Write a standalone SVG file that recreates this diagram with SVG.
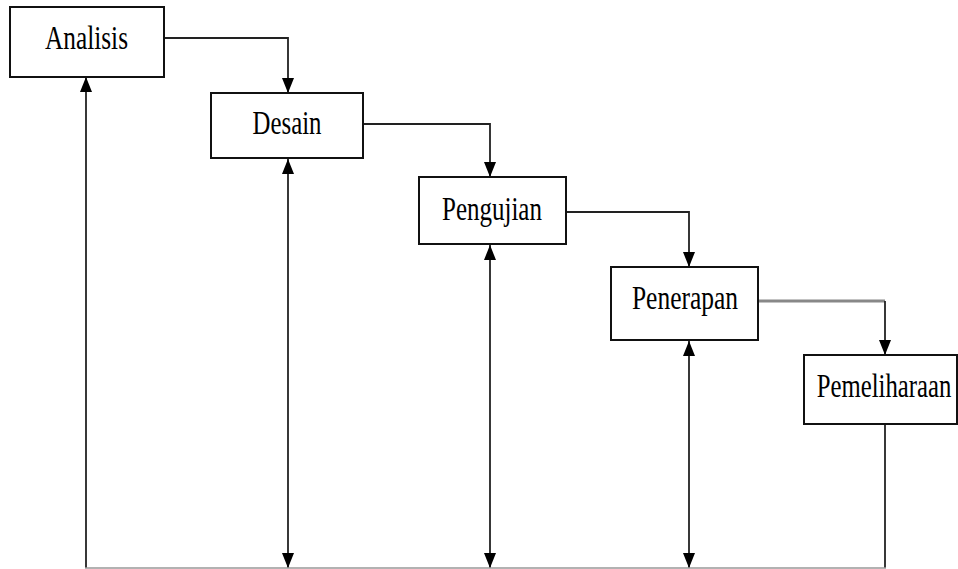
<svg xmlns="http://www.w3.org/2000/svg" width="958" height="569" viewBox="0 0 958 569">
<style>
.box{fill:#fff;stroke:#111;stroke-width:2}
.lbl{font-family:"Liberation Serif","Times New Roman",serif;font-size:34px;fill:#000;text-anchor:middle}
.ln{fill:none;stroke:#222;stroke-width:1.8}
.gr{fill:none;stroke:#888;stroke-width:3}
</style>
<defs>
<marker id="ar" viewBox="0 0 15 12" refX="15" refY="6" markerWidth="15" markerHeight="12" markerUnits="userSpaceOnUse" orient="auto">
<path d="M0,0 L15,6 L0,12 Z" fill="#000"/>
</marker>
<marker id="as" viewBox="0 0 15 12" refX="0" refY="6" markerWidth="15" markerHeight="12" markerUnits="userSpaceOnUse" orient="auto">
<path d="M15,0 L0,6 L15,12 Z" fill="#000"/>
</marker>
</defs>
<g id="connectors">
<path class="ln" d="M164,38 H288 V93" marker-end="url(#ar)"/>
<path class="ln" d="M363,124 H490 V177" marker-end="url(#ar)"/>
<path class="ln" d="M566,212 H689 V267" marker-end="url(#ar)"/>
<path class="gr" d="M758,301 H885"/>
<path class="ln" d="M885,301 V355" marker-end="url(#ar)"/>
<path class="ln" d="M86,568 V77" marker-end="url(#ar)"/>
<path class="ln" d="M288,159 V568" marker-start="url(#as)" marker-end="url(#ar)"/>
<path class="ln" d="M490,245 V568" marker-start="url(#as)" marker-end="url(#ar)"/>
<path class="ln" d="M689,341 V568" marker-start="url(#as)" marker-end="url(#ar)"/>
<path class="ln" d="M885,424 V568"/>
<path d="M85,568 H886" fill="none" stroke="#999" stroke-width="1.5"/>
</g>
<g id="analisis">
<rect class="box" x="10" y="7" width="154" height="70"/>
<text class="lbl" transform="translate(86.5,49) scale(0.745,1)">Analisis</text>
</g>
<g id="desain">
<rect class="box" x="211" y="93" width="152" height="65"/>
<text class="lbl" transform="translate(287,134) scale(0.73,1)">Desain</text>
</g>
<g id="pengujian">
<rect class="box" x="419" y="177" width="147" height="67"/>
<text class="lbl" transform="translate(492,220) scale(0.735,1)">Pengujian</text>
</g>
<g id="penerapan">
<rect class="box" x="611" y="267" width="147" height="73"/>
<text class="lbl" transform="translate(685,309) scale(0.75,1)">Penerapan</text>
</g>
<g id="pemeliharaan">
<rect class="box" x="804" y="355" width="153" height="69"/>
<text class="lbl" transform="translate(884,397) scale(0.727,1)">Pemeliharaan</text>
</g>
</svg>
